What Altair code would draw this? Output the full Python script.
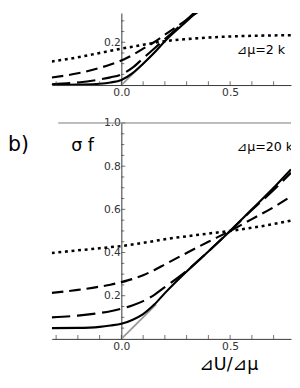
import altair as alt
import pandas as pd

# ---- data ----
X = [-0.32, -0.2, -0.1, -0.05, 0.0, 0.05, 0.1, 0.15, 0.2, 0.3, 0.4, 0.5, 0.6, 0.7, 0.78]

# top panel (delta mu = 2 k)
top_solid  = [0.0, 0.002, 0.006, 0.012, 0.024, 0.055, 0.10, 0.15, 0.205, 0.298, 0.392, 0.49, 0.59, 0.69, 0.77]
top_long   = [0.004, 0.012, 0.026, 0.036, 0.05, 0.08, 0.125, 0.17, 0.215, 0.305, 0.40, 0.495, 0.59, 0.685, 0.76]
top_medium = [0.035, 0.055, 0.08, 0.096, 0.115, 0.14, 0.17, 0.20, 0.235, 0.305, 0.375, 0.44, 0.51, 0.575, 0.63]
top_dotted = [0.11, 0.13, 0.15, 0.16, 0.17, 0.179, 0.188, 0.197, 0.205, 0.215, 0.222, 0.227, 0.23, 0.232, 0.233]

# bottom panel (delta mu = 20 k)
bot_solid  = [0.05, 0.051, 0.056, 0.062, 0.07, 0.088, 0.115, 0.158, 0.212, 0.312, 0.405, 0.5, 0.6, 0.7, 0.785]
bot_long   = [0.10, 0.108, 0.12, 0.128, 0.14, 0.155, 0.175, 0.203, 0.24, 0.315, 0.405, 0.5, 0.597, 0.69, 0.77]
bot_medium = [0.213, 0.227, 0.242, 0.251, 0.263, 0.277, 0.295, 0.318, 0.345, 0.398, 0.45, 0.5, 0.555, 0.61, 0.66]
bot_dotted = [0.398, 0.41, 0.42, 0.425, 0.43, 0.437, 0.445, 0.453, 0.462, 0.475, 0.488, 0.5, 0.515, 0.532, 0.548]

# gray reference ramp
ramp_x = [0.0, 0.16]
ramp_y = [0.0, 0.16]

# ticks and labels
X_LABELS = [0.0, 0.5]
X_MINOR = [-0.3, -0.2, -0.1, 0.0, 0.1, 0.2, 0.3, 0.4, 0.5, 0.6, 0.7]
TOP_Y_LABELS = [0.2]
TOP_Y_MAJOR = [0.2]
TOP_Y_MINOR = [0.05, 0.1, 0.15, 0.25, 0.3]
BOT_Y_LABELS = [0.2, 0.4, 0.6, 0.8, 1.0]
BOT_Y_MAJOR = [0.2, 0.4, 0.6, 0.8, 1.0]
BOT_Y_MINOR = [0.05, 0.1, 0.15, 0.25, 0.3, 0.35, 0.45, 0.5, 0.55, 0.65, 0.7, 0.75, 0.85, 0.9, 0.95]
TOP_NOTE = "⊿μ=2 k"
BOT_NOTE = "⊿μ=20 k"
PANEL_LABEL = "b)"
Y_TITLE = "σ f"
X_TITLE = "⊿U/⊿μ"

FONT = "DejaVu Sans"
W = 246
X_DOM = [-0.32, 0.78]
Y_AXIS_OFFSET = -W * (0 - X_DOM[0]) / (X_DOM[1] - X_DOM[0])
AX = "#333"


def panel(curves, ymax, height, ylabels, ymajor, yminor, note, note_y, extra_texts):
    xscale = alt.Scale(domain=X_DOM, nice=False, zero=False)
    yscale = alt.Scale(domain=[0, ymax], nice=False, zero=False)
    xaxis = alt.Axis(values=X_LABELS, format=".1f", ticks=False, grid=False,
                     domainColor=AX, labelColor=AX, labelFont=FONT, labelFontSize=11,
                     labelPadding=2, labelFlush=False, title=None)
    yaxis = alt.Axis(values=ylabels, format=".1f", ticks=False, grid=False,
                     offset=Y_AXIS_OFFSET, domainColor=AX, labelColor=AX,
                     labelFont=FONT, labelFontSize=11, labelPadding=1,
                     labelFlush=False, title=None)
    layers = []
    ramp = pd.DataFrame({"x": ramp_x, "y": ramp_y})
    layers.append(
        alt.Chart(ramp).mark_line(color="#999999", strokeWidth=1.8, clip=True).encode(
            x=alt.X("x:Q", scale=xscale, axis=xaxis),
            y=alt.Y("y:Q", scale=yscale, axis=yaxis),
        )
    )
    for vals, dash, sw in curves:
        df = pd.DataFrame({"x": X, "y": vals})
        kw = dict(color="black", strokeWidth=sw, clip=True, interpolate="monotone",
                  strokeCap="butt")
        if dash:
            kw["strokeDash"] = dash
        layers.append(
            alt.Chart(df).mark_line(**kw).encode(
                x=alt.X("x:Q", scale=xscale, axis=xaxis),
                y=alt.Y("y:Q", scale=yscale, axis=yaxis),
            )
        )
    # x minor ticks (pointing up)
    layers.append(
        alt.Chart(pd.DataFrame({"t": X_MINOR})).mark_tick(
            orient="vertical", size=4, thickness=1, color=AX, yOffset=-2
        ).encode(x=alt.X("t:Q", scale=xscale), y=alt.datum(0))
    )
    # y ticks (pointing right)
    layers.append(
        alt.Chart(pd.DataFrame({"t": ymajor})).mark_tick(
            orient="horizontal", size=4, thickness=1, color=AX, xOffset=2
        ).encode(y=alt.Y("t:Q", scale=yscale), x=alt.datum(0))
    )
    layers.append(
        alt.Chart(pd.DataFrame({"t": yminor})).mark_tick(
            orient="horizontal", size=3, thickness=1, color=AX, xOffset=1.5
        ).encode(y=alt.Y("t:Q", scale=yscale), x=alt.datum(0))
    )
    layers.append(
        alt.Chart(pd.DataFrame({"s": [note]})).mark_text(
            align="left", baseline="alphabetic", fontSize=13, font=FONT,
            color="black", clip=True
        ).encode(text="s:N", x=alt.value(190), y=alt.value(note_y))
    )
    layers.extend(extra_texts)
    return alt.layer(*layers).properties(width=W, height=height)


top_curves = [
    (top_dotted, [3, 3.8], 2.6),
    (top_medium, [12, 6], 2.2),
    (top_long, [19, 7], 2.2),
    (top_solid, None, 2.2),
]
bot_curves = [
    (bot_dotted, [3, 3.8], 2.6),
    (bot_medium, [12, 6], 2.2),
    (bot_long, [19, 7], 2.2),
    (bot_solid, None, 2.2),
]

TOP_H = 74
BOT_H = 222

bot_extra = [
    alt.Chart(pd.DataFrame({"s": [PANEL_LABEL]})).mark_text(
        align="left", baseline="alphabetic", fontSize=21, font=FONT, color="black"
    ).encode(text="s:N", x=alt.value(-45), y=alt.value(29)),
    alt.Chart(pd.DataFrame({"s": [Y_TITLE]})).mark_text(
        align="left", baseline="alphabetic", fontSize=18, font=FONT, color="black"
    ).encode(text="s:N", x=alt.value(20), y=alt.value(29)),
    alt.Chart(pd.DataFrame({"s": [X_TITLE]})).mark_text(
        align="center", baseline="alphabetic", fontSize=18, font=FONT, color="black"
    ).encode(text="s:N", x=alt.value(182), y=alt.value(BOT_H + 32)),
    alt.Chart(pd.DataFrame({"a": [-0.29], "b": [0.78], "y": [1.0]})).mark_rule(
        color="#777777", strokeWidth=1
    ).encode(
        x=alt.X("a:Q", scale=alt.Scale(domain=X_DOM, nice=False, zero=False)),
        x2="b:Q",
        y=alt.Y("y:Q", scale=alt.Scale(domain=[0, 1.0], nice=False, zero=False)),
    ),
]

top = panel(top_curves, TOP_H / 220.0, TOP_H, TOP_Y_LABELS, TOP_Y_MAJOR, TOP_Y_MINOR,
            TOP_NOTE, 42, [])
bottom = panel(bot_curves, 1.0, BOT_H, BOT_Y_LABELS, BOT_Y_MAJOR, BOT_Y_MINOR,
               BOT_NOTE, 29, bot_extra)

chart = alt.vconcat(top, bottom, spacing=39, bounds="flush").properties(
    padding=0
).configure_view(stroke=None)

chart.save("out.html", embed_options={"renderer": "svg", "actions": False})
